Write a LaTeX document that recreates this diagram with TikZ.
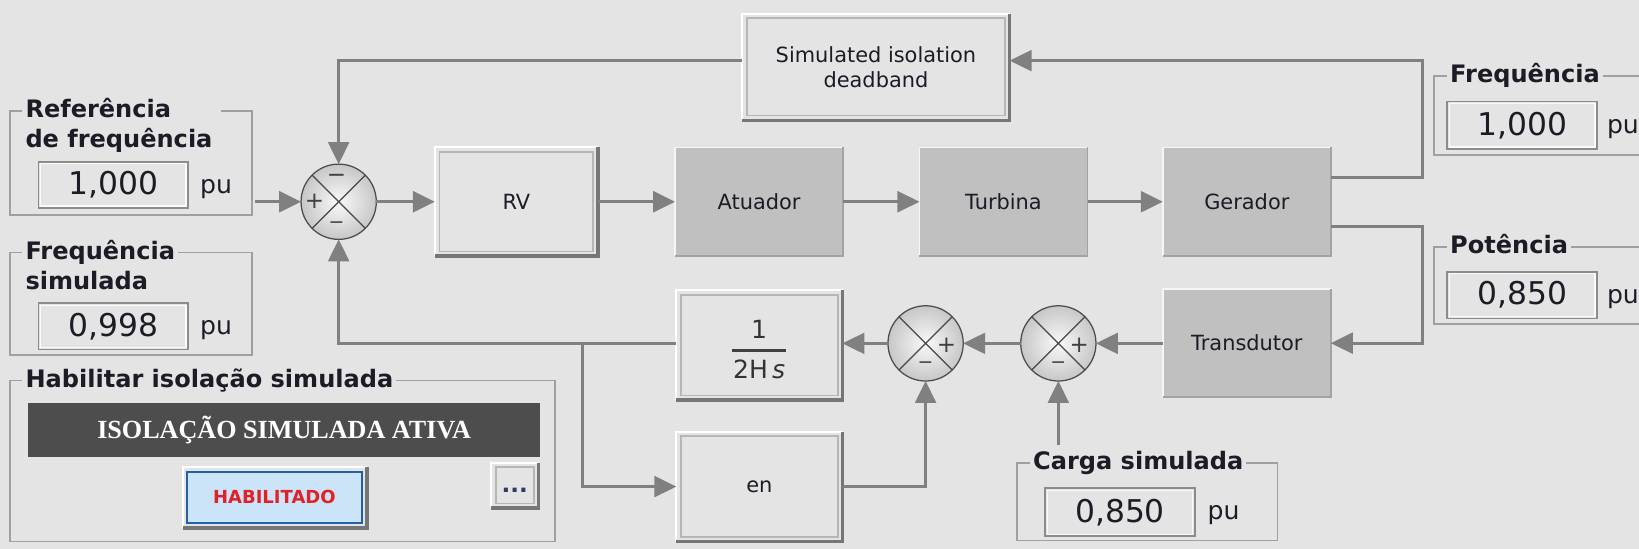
\documentclass[tikz,border=0pt]{standalone}
\usepackage{fontspec}
\setmainfont{DejaVu Sans}
\newfontfamily\barfont{Liberation Serif}
\usetikzlibrary{arrows.meta,calc}
\definecolor{bg}{RGB}{228,228,228}
\definecolor{ln}{RGB}{128,128,128}
\definecolor{blk}{RGB}{192,192,192}
\definecolor{barc}{RGB}{77,77,77}
\definecolor{frm}{RGB}{160,160,160}
\definecolor{txt}{RGB}{28,28,38}
\definecolor{shd}{RGB}{118,118,118}
\definecolor{inr}{RGB}{182,182,182}
\definecolor{btnblue}{RGB}{204,228,247}
\definecolor{btnedge}{RGB}{36,96,168}
\definecolor{hred}{RGB}{226,32,40}
\definecolor{dotc}{RGB}{40,60,100}
\newcommand\bevelbox[1]{%
  \draw[white, line width=1pt] (#1.south west) -- (#1.north west) -- (#1.north east);
  \draw[shd, line width=1.6pt] (#1.south west) -- (#1.south east) -- (#1.north east);
  \draw[inr, line width=0.8pt] ([shift={(2.2pt,2.2pt)}]#1.south west) rectangle ([shift={(-2.2pt,-2.2pt)}]#1.north east);}
\newcommand\darkbevel[1]{%
  \draw[white!85!blk, line width=0.8pt] (#1.south west) -- (#1.north west) -- (#1.north east);
  \draw[blk!85!black, line width=0.8pt] (#1.south west) -- (#1.south east) -- (#1.north east);}
\newcommand\sunkbox[1]{%
  \draw[white!80!bg, line width=0.6pt] ([shift={(1pt,1pt)}]#1.south west) rectangle ([shift={(-1pt,-1pt)}]#1.north east);}
\newcommand\sumx[1]{%
  \draw[xl] (#1.north west) -- (#1.south east) (#1.north east) -- (#1.south west);
  \draw[black!70, line width=0.6pt] (#1) circle[radius=18pt];}
\tikzset{
  conn/.style={draw=ln, line width=1.3pt, -{Triangle[length=10.5pt,width=10pt]}},
  lightblk/.style={rectangle, fill=bg, inner sep=0pt, outer sep=0pt, text=txt,
    font=\fontsize{10}{12}\selectfont, align=center},
  darkblk/.style={rectangle, fill=blk, inner sep=0pt, outer sep=0pt, text=txt,
    font=\fontsize{10}{12}\selectfont, align=center, minimum width=80.4pt, minimum height=52pt},
  sumnode/.style={circle, minimum size=36pt, inner sep=0pt, outer sep=0pt,
    inner color=white!96!gray, outer color=black!22},
  xl/.style={draw=black!72, line width=0.6pt},
  sgn/.style={inner sep=0pt, text=black!75, font=\fontsize{11}{11}\selectfont},
  sgnsmall/.style={inner sep=0pt, text=black!75, font=\fontsize{9}{9}\selectfont},
  grpframe/.style={rectangle, draw=frm, line width=0.8pt, inner sep=0pt, outer sep=0pt},
  grplabel/.style={fill=bg, inner xsep=1.5pt, inner ysep=1pt, text=txt,
    font=\bfseries\fontsize{11.5}{14}\selectfont},
  valbox/.style={rectangle, draw=black!45, line width=0.8pt, fill=bg, inner sep=0pt,
    outer sep=0pt, text=txt, font=\fontsize{15}{15}\selectfont},
  unit/.style={inner sep=0pt, text=txt, font=\fontsize{12}{12}\selectfont},
}
\begin{document}
\begin{tikzpicture}[x=0.5pt,y=-0.5pt]
\clip (0,0) rectangle (1568,525.2);
\fill[bg] (0,0) rectangle (1568,525.2);

% ---------- left group boxes ----------
\node[grpframe, minimum width=115.7pt, minimum height=49.85pt] (reff) at (125.3,155.9) {};
\node[grplabel, anchor=base west] (refl1) at (21,112.5) {\makebox[92pt][l]{Referência}};
\node[grplabel, anchor=base west] (refl2) at (21,141) {de frequência};
\node[valbox, minimum width=71.65pt, minimum height=22.15pt] (refv) at (108.35,176.85) {1,000};
\sunkbox{refv}
\node[unit, anchor=base west] (refu) at (191,185) {pu};

\node[grpframe, minimum width=115.7pt, minimum height=48.95pt] (simf) at (125.3,290.65) {};
\node[grplabel, anchor=base west] (siml1) at (21,248.2) {Frequência};
\node[grplabel, anchor=base west] (siml2) at (21,276.6) {simulada};
\node[valbox, minimum width=71.65pt, minimum height=22.15pt] (simv) at (108.35,312.15) {0,998};
\sunkbox{simv}
\node[unit, anchor=base west] (simu) at (191,320.3) {pu};

\node[grpframe, minimum width=260.7pt, minimum height=77pt] (habf) at (270.3,441) {};
\node[grplabel, anchor=base west] (habl) at (21,370.5) {Habilitar isolação simulada};
\node[rectangle, fill=barc, inner sep=0pt, minimum width=244.8pt, minimum height=25.5pt,
  text=white, font=\barfont\bfseries\fontsize{12.5}{12.5}\selectfont] (bar) at (271.8,411.5) {ISOLAÇÃO SIMULADA ATIVA};
\node[rectangle, fill=bg, inner sep=0pt, outer sep=0pt, minimum width=88pt, minimum height=29.25pt] (btn) at (263,475.75) {};
\draw[white, line width=1pt] (btn.south west) -- (btn.north west) -- (btn.north east);
\draw[shd, line width=1.6pt] (btn.south west) -- (btn.south east) -- (btn.north east);
\node[rectangle, fill=btnblue, draw=btnedge, line width=1pt, inner sep=0pt, minimum width=83.4pt,
  minimum height=24.5pt, text=hred, font=\bfseries\fontsize{8.6}{8.6}\selectfont] (btnin) at (262.5,475.75) {HABILITADO};
\node[rectangle, fill=bg, inner sep=0pt, outer sep=0pt, minimum width=22.5pt, minimum height=21.7pt] (dots) at (492.5,464.3) {};
\bevelbox{dots}
\node[inner sep=0pt, text=dotc, font=\bfseries\fontsize{11}{11}\selectfont] (dotst) at (492.5,469.5) {...};

% ---------- blocks ----------
\node[lightblk, minimum width=78pt, minimum height=52pt] (rv) at (494,193) {RV};
\bevelbox{rv}
\node[darkblk] (at) at (726.2,193) {Atuador};
\darkbevel{at}
\node[darkblk] (tu) at (960,193) {Turbina};
\darkbevel{tu}
\node[darkblk] (ge) at (1192.8,193) {Gerador};
\darkbevel{ge}
\node[darkblk, minimum height=51.75pt] (tr) at (1192.8,328.3) {Transdutor};
\darkbevel{tr}
\node[lightblk, minimum width=128pt, minimum height=51pt] (db) at (838,64) {Simulated isolation\\deadband};
\bevelbox{db}
\node[lightblk, minimum width=79.5pt, minimum height=52.6pt] (hs) at (726.5,330.1) {};
\bevelbox{hs}
\node[inner sep=0pt, text=black!80, font=\fontsize{12}{12}\selectfont] (hsnum) at (726.3,315) {1};
\node[inner sep=0pt, text=black!80, font=\fontsize{12}{12}\selectfont] (hsden) at (726.3,353) {2H\,\textit{s}};
\draw[black!75, line width=1.2pt] (hsden.west |- 0,335.5) ++(-1,0) -- (hsden.east |- 0,335.5);
\node[lightblk, minimum width=79.5pt, minimum height=52.5pt] (en) at (726.5,465.5) {en};
\bevelbox{en}

% ---------- summing junctions ----------
\node[sumnode] (s1) at (324,193) {};
\sumx{s1}
\node[sgn] (s1a) at ($(s1)+(-2,-22)$) {−};
\node[sgn] (s1b) at ($(s1)+(-23,0)$) {+};
\node[sgnsmall] (s1c) at ($(s1)+(-2,22)$) {−};
\node[sumnode] (s2) at (885.5,328.5) {};
\sumx{s2}
\node[sgn] (s2a) at ($(s2)+(20,2)$) {+};
\node[sgnsmall] (s2b) at ($(s2)+(0,21)$) {−};
\node[sumnode] (s3) at (1012.5,328.5) {};
\sumx{s3}
\node[sgn] (s3a) at ($(s3)+(20,2)$) {+};
\node[sgnsmall] (s3b) at ($(s3)+(0,21)$) {−};

% ---------- right group boxes ----------
\node[grpframe, minimum width=114pt, minimum height=37.65pt] (frqf) at (1486,110.35) {};
\node[grplabel, anchor=base west] (frql) at (1384,79.2) {Frequência};
\node[valbox, minimum width=71.75pt, minimum height=22.8pt] (frqv) at (1456.25,119.8) {1,000};
\sunkbox{frqv}
\node[unit, anchor=base west] (frqu) at (1537,127.3) {pu};

\node[grpframe, minimum width=114pt, minimum height=37pt] (potf) at (1486,273) {};
\node[grplabel, anchor=base west] (potl) at (1384,242.5) {Potência};
\node[valbox, minimum width=71.75pt, minimum height=22.3pt] (potv) at (1456.25,282.3) {0,850};
\sunkbox{potv}
\node[unit, anchor=base west] (potu) at (1537,290.3) {pu};

\node[grpframe, minimum width=124.5pt, minimum height=37pt] (carf) at (1097.5,480) {};
\node[grplabel, anchor=base west] (carl) at (985,449.5) {Carga simulada};
\node[valbox, minimum width=71.5pt, minimum height=23pt] (carv) at (1071.5,490) {0,850};
\sunkbox{carv}
\node[unit, anchor=base west] (caru) at (1155,497.3) {pu};

% ---------- connectors ----------
\coordinate (refout) at ($(reff.east |- s1.west)+(3,0)$);
\draw[conn] (refout) -- (s1.west);
\draw[conn] (s1.east) -- (rv.west);
\draw[conn] (rv.east) -- (at.west);
\draw[conn] (at.east) -- (tu.west);
\draw[conn] (tu.east) -- (ge.west);
\coordinate (cu) at (1361,170);
\coordinate (ct) at (1361,58);
\draw[conn] (ge.east |- cu) -- (cu) -- (ct) -- (db.east |- ct);
\draw[conn] (db.west |- ct) -- (s1 |- ct) -- (s1.north);
\coordinate (cl) at (1361,217);
\coordinate (cb) at (1361,328.3);
\draw[conn] (ge.east |- cl) -- (cl) -- (cb) -- (tr.east |- cb);
\draw[conn] (tr.west |- s3) -- (s3.east);
\draw[conn] (s3.west) -- (s2.east);
\draw[conn] (s2.west) -- (hs.east |- s2);
\draw[conn] (hs.west |- s2) -- (s1 |- s2) -- (s1.south);
\coordinate (br) at (557,328.5);
\draw[conn] (br) -- (br |- en) -- (en.west);
\draw[conn] (en.east) -- (s2 |- en) -- (s2.south);
\coordinate (carin) at ($(s3 |- carl.north)+(0,-4)$);
\draw[conn] (carin) -- (s3.south);
\end{tikzpicture}
\end{document}
